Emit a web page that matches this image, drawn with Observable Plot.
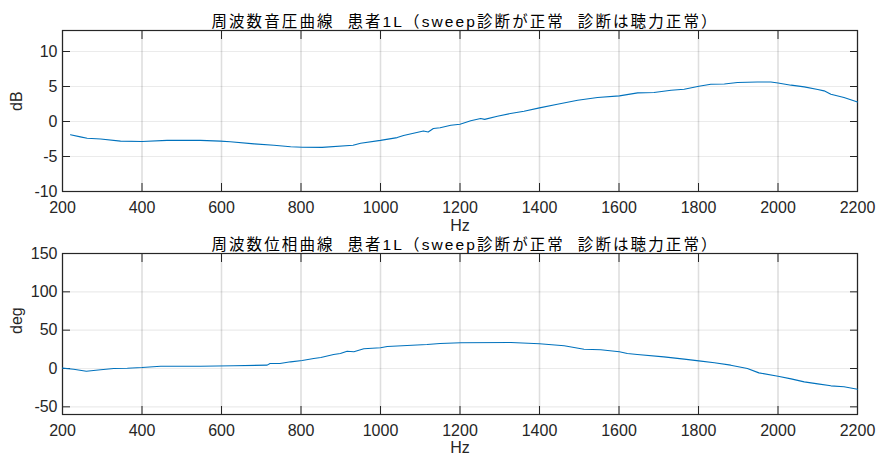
<!DOCTYPE html>
<html>
<head>
<meta charset="utf-8">
<script src="https://cdn.jsdelivr.net/npm/d3@7"></script>
<script src="https://cdn.jsdelivr.net/npm/@observablehq/plot@0.6"></script>
<style>
  html, body { margin: 0; padding: 0; background: #fff; }
  #wrap { position: relative; width: 877px; height: 455px; overflow: hidden; }
  #wrap svg { position: absolute; left: 0; }
  .ttl text { letter-spacing: 2.1px; }
</style>
</head>
<body>
<div id="wrap"></div>
<script>
// ---- data ----
const xTicks = [200, 400, 600, 800, 1000, 1200, 1400, 1600, 1800, 2000, 2200];

const dbTitle = "周波数音圧曲線\u00A0\u00A0患者1L（sweep診断が正常\u00A0\u00A0診断は聴力正常）";
const phTitle = "周波数位相曲線\u00A0\u00A0患者1L（sweep診断が正常\u00A0\u00A0診断は聴力正常）";
const xLabel = "Hz";
const dbLabel = "dB";
const phLabel = "deg";

const dbTicks = [-10, -5, 0, 5, 10];
const dbDomain = [-10, 13];
const dbFreq = [220, 245, 262, 296, 346, 400, 463, 547, 597, 622, 682, 732, 774, 803, 853, 931, 950, 1000, 1042, 1058,
  1108, 1120, 1133, 1150, 1177, 1200, 1227, 1252, 1262, 1294, 1327, 1361, 1400, 1445, 1496, 1546, 1601, 1647, 1688, 1731,
  1764, 1801, 1831, 1865, 1898, 1948, 1982, 2000, 2033, 2066, 2100, 2116, 2133, 2166, 2200];
const dbValues = [-1.9, -2.2, -2.4, -2.5, -2.8, -2.85, -2.7, -2.7, -2.8, -2.9, -3.2, -3.4, -3.6, -3.68, -3.7, -3.4, -3.1, -2.7, -2.3, -2.0,
  -1.35, -1.5, -1.0, -0.9, -0.53, -0.39, 0.1, 0.43, 0.3, 0.76, 1.14, 1.47, 1.95, 2.47, 3.04, 3.43, 3.66, 4.09, 4.14, 4.47,
  4.6, 5.04, 5.33, 5.35, 5.57, 5.64, 5.64, 5.5, 5.19, 4.95, 4.57, 4.38, 3.9, 3.43, 2.8];

const phTicks = [-50, 0, 50, 100, 150];
const phDomain = [-60, 150];
const phFreq = [200, 228, 260, 296, 329, 363, 400, 447, 547, 630, 715, 722, 747, 774, 803, 832, 850, 882, 899, 916,
  933, 958, 1000, 1017, 1067, 1117, 1150, 1202, 1328, 1400, 1462, 1512, 1554, 1601, 1621, 1646, 1713, 1764, 1801, 1840,
  1881, 1923, 1952, 2000, 2033, 2066, 2100, 2133, 2166, 2200];
const phValues = [0.5, -0.9, -3.5, -1.7, 0, 0.4, 1.3, 3.0, 3.0, 3.5, 4.4, 6.5, 6.5, 8.7, 10.4, 13, 14.4, 18.3, 19.6, 22.6,
  21.8, 25.7, 27, 28.7, 30, 31.3, 32.6, 33.5, 33.9, 32.2, 29.6, 25.2, 24.4, 21.75, 19.6, 18.3, 15.2, 12.2, 10, 7.4,
  4.35, 0, -5.7, -10, -13.5, -17.4, -20, -22.6, -23.9, -27];

// ---- drawing ----
const FONT = "'Liberation Sans', Arial, 'Noto Sans CJK JP', sans-serif";
const AX = "#262626";
const fmt = d => String(d);

function panel({freqs, vals, yDomain, yTicks, yLabel, title, height, marginTop, marginBottom, top, xLabelDy}) {
  const data = freqs.map((f, i) => ({f, v: vals[i]}));
  const svg = Plot.plot({
    width: 877, height, marginLeft: 62, marginRight: 20, marginTop, marginBottom,
    style: {background: "transparent", overflow: "visible", fontFamily: FONT, fontSize: "16px", color: AX},
    x: {domain: [200, 2200], label: null},
    y: {domain: yDomain, label: null},
    marks: [
      Plot.gridX(xTicks, {stroke: "#000", strokeOpacity: 0.13, strokeWidth: 1.6}),
      Plot.gridY(yTicks, {stroke: "#000", strokeOpacity: 0.08, strokeWidth: 1.2}),
      Plot.frame({stroke: AX, strokeWidth: 1.2}),
      Plot.axisX(xTicks, {anchor: "bottom", tickSize: 0, tickPadding: 10, tickFormat: fmt, label: null, fill: AX}),
      Plot.axisX(xTicks, {anchor: "bottom", tickSize: 8, dy: -8, tickFormat: () => "", label: null, stroke: AX}),
      Plot.axisX(xTicks, {anchor: "top", tickSize: 8, dy: 8, tickFormat: () => "", label: null, stroke: AX}),
      Plot.axisY(yTicks, {anchor: "left", tickSize: 0, tickPadding: 5, tickFormat: fmt, label: null, fill: AX}),
      Plot.axisY(yTicks, {anchor: "left", tickSize: 8, dx: 8, tickFormat: () => "", label: null, stroke: AX}),
      Plot.axisY(yTicks, {anchor: "right", tickSize: 8, dx: -8, tickFormat: () => "", label: null, stroke: AX}),
      Plot.line(data, {x: "f", y: "v", stroke: "#0072BD", strokeWidth: 1.1}),
      Plot.text([title], {frameAnchor: "top", lineAnchor: "bottom", dy: -4, dx: 5, fontSize: 15.5, fill: "#000", text: d => d, className: "ttl"}),
      Plot.text([xLabel], {frameAnchor: "bottom", lineAnchor: "middle", dy: xLabelDy, fontSize: 16, fill: AX, text: d => d}),
      Plot.text([yLabel], {frameAnchor: "left", rotate: -90, dx: -46, fontSize: 16, fill: AX, text: d => d})
    ]
  });
  svg.style.top = top + "px";
  return svg;
}

const wrap = document.getElementById("wrap");
wrap.appendChild(panel({freqs: dbFreq, vals: dbValues, yDomain: dbDomain, yTicks: dbTicks, yLabel: dbLabel,
  title: dbTitle, height: 227, marginTop: 30, marginBottom: 36, top: 0, xLabelDy: 34}));
wrap.appendChild(panel({freqs: phFreq, vals: phValues, yDomain: phDomain, yTicks: phTicks, yLabel: phLabel,
  title: phTitle, height: 228, marginTop: 26, marginBottom: 41, top: 227, xLabelDy: 33}));
</script>
</body>
</html>
